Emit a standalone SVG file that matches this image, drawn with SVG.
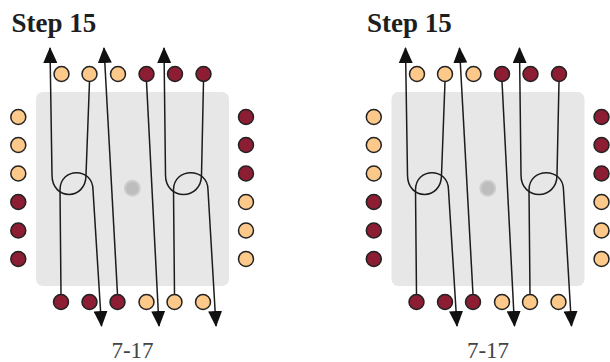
<svg xmlns="http://www.w3.org/2000/svg" width="610" height="362" viewBox="0 0 610 362">
<defs>
<style>
.bg{fill:#e7e7e7}
.hub{fill:#bdbdbd;stroke:#cecece;stroke-width:2}
.ln{fill:none;stroke:#1c1c1c;stroke-width:1.5;marker-end:url(#ah)}
.o{fill:#fcc98a;stroke:#222;stroke-width:1.5}
.r{fill:#8c1d32;stroke:#222;stroke-width:1.5}
.title{font-family:"Liberation Serif",serif;font-weight:bold;font-size:27px;fill:#1e1e1e}
.cap{font-family:"Liberation Serif",serif;font-size:23px;fill:#444;text-anchor:middle}
</style>
<marker id="ah" viewBox="0 0 16 14" refX="15" refY="7" markerWidth="16" markerHeight="14" markerUnits="userSpaceOnUse" orient="auto">
<path d="M0,0 L16,7 L0,14 Z" fill="#111"/>
</marker>
</defs>
<rect width="610" height="362" fill="#fff"/>

<g id="panel-left">
<text class="title" x="11.5" y="32">Step 15</text>
<rect class="bg" x="36" y="92" width="193" height="194" rx="7"/>
<circle class="hub" cx="132.3" cy="188.3" r="7.5"/>
<g id="connectors-left">
<path class="ln" d="M89.5 81.5 L86 175 C86 201 52 201 52 175 L50 48"/>
<path class="ln" d="M61 294.5 L60 190 C60 167 93 167 93 190 L101.5 326"/>
<path class="ln" d="M117.5 294.5 L104 48"/>
<path class="ln" d="M146.5 81.5 L159 326"/>
<path class="ln" d="M203.5 81.5 L201.5 175 C201.5 201 165.5 201 165.5 175 L164 48"/>
<path class="ln" d="M174.5 294.5 L173.5 190 C173.5 167 208 167 208 190 L216 326"/>
</g>
<g id="top-left">
<circle class="o" cx="61.5" cy="74" r="7.5"/>
<circle class="o" cx="89.5" cy="74" r="7.5"/>
<circle class="o" cx="118" cy="74" r="7.5"/>
<circle class="r" cx="146.5" cy="74" r="7.5"/>
<circle class="r" cx="175" cy="74" r="7.5"/>
<circle class="r" cx="203.5" cy="74" r="7.5"/>
</g>
<g id="bottom-left">
<circle class="r" cx="61" cy="302" r="7.5"/>
<circle class="r" cx="89.5" cy="302" r="7.5"/>
<circle class="r" cx="117.5" cy="302" r="7.5"/>
<circle class="o" cx="146.5" cy="302" r="7.5"/>
<circle class="o" cx="174.5" cy="302" r="7.5"/>
<circle class="o" cx="203" cy="302" r="7.5"/>
</g>
<g id="side-left-left">
<circle class="o" cx="18.3" cy="117" r="7.5"/>
<circle class="o" cx="18.3" cy="145" r="7.5"/>
<circle class="o" cx="18.3" cy="173.5" r="7.5"/>
<circle class="r" cx="18.3" cy="202" r="7.5"/>
<circle class="r" cx="18.3" cy="230.5" r="7.5"/>
<circle class="r" cx="18.3" cy="259" r="7.5"/>
</g>
<g id="side-right-left">
<circle class="r" cx="246" cy="117" r="7.5"/>
<circle class="r" cx="246" cy="145" r="7.5"/>
<circle class="r" cx="246" cy="173.5" r="7.5"/>
<circle class="o" cx="246" cy="202" r="7.5"/>
<circle class="o" cx="246" cy="230.5" r="7.5"/>
<circle class="o" cx="246" cy="259" r="7.5"/>
</g>
<text class="cap" x="132.5" y="358">7-17</text>
</g>

<g id="panel-right" transform="translate(355.5,0)">
<text class="title" x="11.5" y="32">Step 15</text>
<rect class="bg" x="36" y="92" width="193" height="194" rx="7"/>
<circle class="hub" cx="132.3" cy="188.3" r="7.5"/>
<g id="connectors-right">
<path class="ln" d="M89.5 81.5 L86 175 C86 201 52 201 52 175 L50 48"/>
<path class="ln" d="M61 294.5 L60 190 C60 167 93 167 93 190 L101.5 326"/>
<path class="ln" d="M117.5 294.5 L104 48"/>
<path class="ln" d="M146.5 81.5 L159 326"/>
<path class="ln" d="M203.5 81.5 L201.5 175 C201.5 201 165.5 201 165.5 175 L164 48"/>
<path class="ln" d="M174.5 294.5 L173.5 190 C173.5 167 208 167 208 190 L216 326"/>
</g>
<g id="top-right">
<circle class="o" cx="61.5" cy="74" r="7.5"/>
<circle class="o" cx="89.5" cy="74" r="7.5"/>
<circle class="o" cx="118" cy="74" r="7.5"/>
<circle class="r" cx="146.5" cy="74" r="7.5"/>
<circle class="r" cx="175" cy="74" r="7.5"/>
<circle class="r" cx="203.5" cy="74" r="7.5"/>
</g>
<g id="bottom-right">
<circle class="r" cx="61" cy="302" r="7.5"/>
<circle class="r" cx="89.5" cy="302" r="7.5"/>
<circle class="r" cx="117.5" cy="302" r="7.5"/>
<circle class="o" cx="146.5" cy="302" r="7.5"/>
<circle class="o" cx="174.5" cy="302" r="7.5"/>
<circle class="o" cx="203" cy="302" r="7.5"/>
</g>
<g id="side-left-right">
<circle class="o" cx="18.3" cy="117" r="7.5"/>
<circle class="o" cx="18.3" cy="145" r="7.5"/>
<circle class="o" cx="18.3" cy="173.5" r="7.5"/>
<circle class="r" cx="18.3" cy="202" r="7.5"/>
<circle class="r" cx="18.3" cy="230.5" r="7.5"/>
<circle class="r" cx="18.3" cy="259" r="7.5"/>
</g>
<g id="side-right-right">
<circle class="r" cx="246" cy="117" r="7.5"/>
<circle class="r" cx="246" cy="145" r="7.5"/>
<circle class="r" cx="246" cy="173.5" r="7.5"/>
<circle class="o" cx="246" cy="202" r="7.5"/>
<circle class="o" cx="246" cy="230.5" r="7.5"/>
<circle class="o" cx="246" cy="259" r="7.5"/>
</g>
<text class="cap" x="132.5" y="358">7-17</text>
</g>
</svg>
